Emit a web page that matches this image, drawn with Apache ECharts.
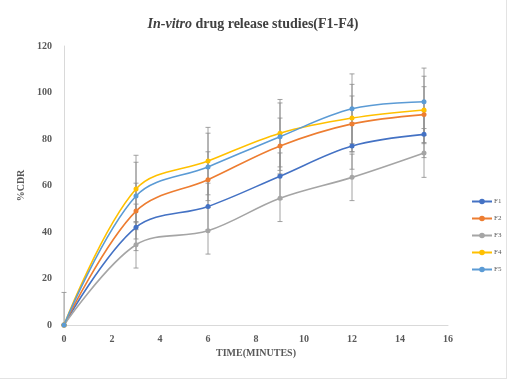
<!DOCTYPE html>
<html>
<head>
<meta charset="utf-8">
<script src="https://cdn.jsdelivr.net/npm/echarts@6/dist/echarts.min.js"></script>
<style>
  html, body { margin: 0; padding: 0; background: #fff; }
  #box { width: 507px; height: 379px; box-sizing: border-box; border-right: 1px solid #e3e3e3; border-bottom: 1px solid #e3e3e3; }
</style>
</head>
<body>
<div id="box"></div>
<script>
// time points (minutes)
var times = [0, 3, 6, 9, 12, 15];
var seriesNames = ["F1", "F2", "F3", "F4", "F5"];
var colors = ["#4472C4", "#ED7D31", "#A5A5A5", "#FFC000", "#5B9BD5"];
// %CDR values
var f1 = [0, 42, 51, 64, 77, 82];
var f2 = [0, 49, 62.5, 77, 86.5, 90.5];
var f3 = [0, 34.5, 40.5, 54.5, 63.5, 74];
var f4 = [0, 58.5, 70.5, 82.5, 89, 92.5];
var f5 = [0, 55.5, 68, 81, 93, 96];
// error bar sizes (+/-)
var e1 = [0, 10, 10, 10, 10, 10];
var e2 = [0, 12, 12, 12, 12, 12];
var e3 = [0, 10, 10, 10, 10, 10.5];
var e4 = [0, 14.5, 14.5, 14.5, 14.5, 14.5];
var e5 = [14, 14.5, 14.5, 14.5, 15, 14.5];

var allValues = [f1, f2, f3, f4, f5];
var allErrors = [e1, e2, e3, e4, e5];

var chart = echarts.init(document.getElementById("box"));
var serif = "Liberation Serif";

var series = [];
var errData = [];
for (let i = 0; i < seriesNames.length; i++) {
  let pts = [];
  for (let j = 0; j < times.length; j++) {
    pts.push([times[j], allValues[i][j]]);
    if (allErrors[i][j] > 0) {
      errData.push([times[j], allValues[i][j] - allErrors[i][j], allValues[i][j] + allErrors[i][j]]);
    }
  }
  series.push({
    name: seriesNames[i],
    type: "line",
    smooth: 0.35,
    data: pts,
    symbol: "circle",
    symbolSize: 5,
    z: 3,
    lineStyle: { color: colors[i], width: 1.6 },
    itemStyle: { color: colors[i] },
  });
}

// error bars
series.push({
  type: "custom",
  name: "err",
  z: 2,
  silent: true,
  data: errData,
  renderItem: function (params, api) {
    var lo = api.coord([api.value(0), Math.max(api.value(1), 0)]);
    var hi = api.coord([api.value(0), api.value(2)]);
    var w = 2.5;
    var st = { stroke: "#8c8c8c", lineWidth: 0.8 };
    return {
      type: "group",
      children: [
        { type: "line", shape: { x1: lo[0], y1: lo[1], x2: hi[0], y2: hi[1] }, style: st },
        { type: "line", shape: { x1: lo[0] - w, y1: lo[1], x2: lo[0] + w, y2: lo[1] }, style: st },
        { type: "line", shape: { x1: hi[0] - w, y1: hi[1], x2: hi[0] + w, y2: hi[1] }, style: st },
      ],
    };
  },
});

var option = {
  backgroundColor: "#fff",
  animation: false,
  title: {
    text: "{i|In-vitro}{b| drug release studies(F1-F4)}",
    left: "center",
    top: 12,
    textStyle: {
      rich: {
        i: { fontFamily: serif, fontSize: 14, fontWeight: "bold", fontStyle: "italic", color: "#404040" },
        b: { fontFamily: serif, fontSize: 14, fontWeight: "bold", color: "#404040" },
      },
    },
  },
  legend: {
    data: seriesNames,
    orient: "vertical",
    left: 466,
    top: 193,
    itemWidth: 20,
    itemHeight: 7,
    itemGap: 10,
    textStyle: { fontFamily: serif, fontSize: 7, color: "#595959", padding: [0, 0, 0, -3] },
  },
  grid: { left: 64, right: 58, top: 46, bottom: 53 },
  xAxis: {
    type: "value",
    min: 0,
    max: 16,
    interval: 2,
    name: "TIME(MINUTES)",
    nameLocation: "middle",
    nameGap: 23,
    nameTextStyle: { fontFamily: serif, fontSize: 10, fontWeight: "bold", color: "#595959" },
    axisLine: { lineStyle: { color: "#d9d9d9" } },
    axisTick: { show: false },
    splitLine: { show: false },
    axisLabel: { fontFamily: serif, fontSize: 10, fontWeight: "bold", color: "#595959", margin: 9 },
  },
  yAxis: {
    type: "value",
    min: 0,
    max: 120,
    interval: 20,
    name: "%CDR",
    nameLocation: "middle",
    nameGap: 26,
    nameTextStyle: { fontFamily: serif, fontSize: 10, fontWeight: "bold", color: "#595959" },
    axisLine: { show: true, lineStyle: { color: "#d9d9d9" } },
    axisTick: { show: false },
    splitLine: { show: false },
    axisLabel: { fontFamily: serif, fontSize: 10, fontWeight: "bold", color: "#595959", margin: 12 },
  },
  series: series,
};
chart.setOption(option);
</script>
</body>
</html>
